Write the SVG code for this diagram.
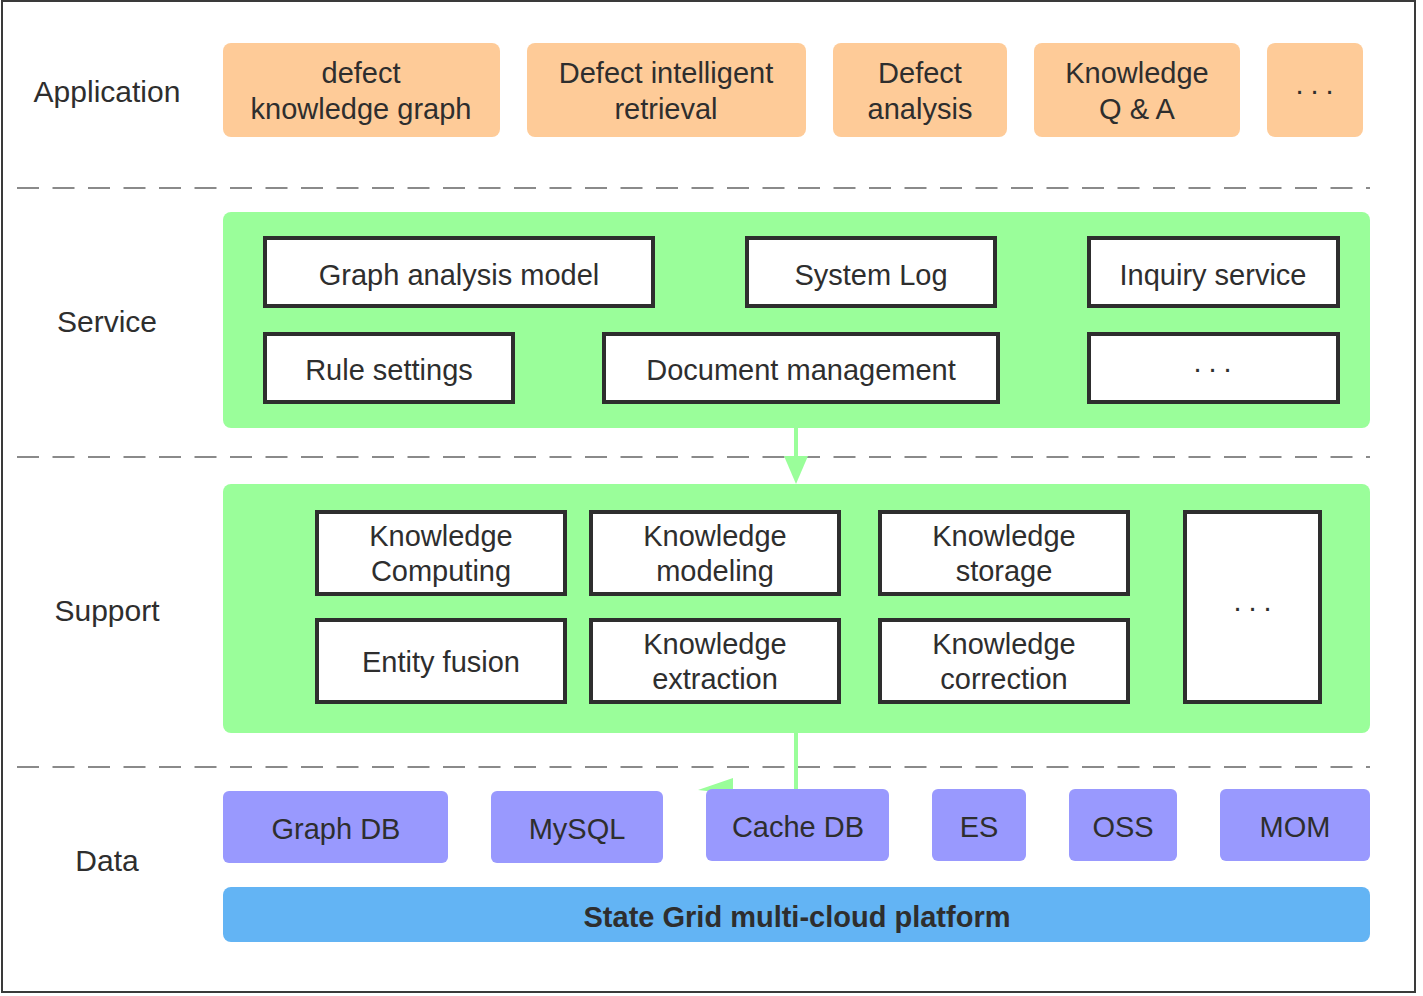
<svg xmlns="http://www.w3.org/2000/svg" width="1423" height="996" viewBox="0 0 1423 996">
<style>
text{font-family:"Liberation Sans","Noto Sans",Arial,sans-serif;font-size:29px;fill:#2e2e2e;text-anchor:middle}
.lbl{font-size:30px}
.app{fill:#FECB98}
.panel{fill:#9AFE9A}
.box{fill:#ffffff;stroke:#2e2e2e;stroke-width:4}
.db{fill:#9999FE}
.cloud{fill:#63B4F4}
.dash{stroke:#8a8a8a;stroke-width:2;stroke-dasharray:22 13.5;fill:none}
.conn{stroke:#9AFE9A;stroke-width:4;fill:none}
.head{fill:#9AFE9A}
.dots{letter-spacing:7px}
.bold{font-weight:bold}
</style>
<rect x="2" y="1" width="1413" height="991" fill="#ffffff" stroke="#3a3a3a" stroke-width="2"/>

<g id="separators">
<line class="dash" x1="17" y1="188" x2="1370" y2="188"/>
<line class="dash" x1="17" y1="457" x2="1370" y2="457"/>
<line class="dash" x1="17" y1="767" x2="1370" y2="767"/>
</g>

<g id="layer-labels">
<text class="lbl" x="107" y="102">Application</text>
<text class="lbl" x="107" y="332">Service</text>
<text class="lbl" x="107" y="621">Support</text>
<text class="lbl" x="107" y="871">Data</text>
</g>

<g id="service-panel"><rect class="panel" x="223" y="212" width="1147" height="216" rx="8"/></g>
<g id="support-panel"><rect class="panel" x="223" y="484" width="1147" height="249" rx="8"/></g>

<g id="connectors">
<line class="conn" x1="796" y1="428" x2="796" y2="458"/>
<polygon class="head" points="784,456 808,456 796,484"/>
<line class="conn" x1="796" y1="733" x2="796" y2="790"/>
<polygon class="head" points="733,778 698,790 733,794"/>
</g>

<g id="app-defect-kg"><rect class="app" x="223" y="43" width="277" height="94" rx="8"/><text x="361" y="83">defect</text><text x="361" y="119">knowledge graph</text></g>
<g id="app-retrieval"><rect class="app" x="527" y="43" width="279" height="94" rx="8"/><text x="666" y="83">Defect intelligent</text><text x="666" y="119">retrieval</text></g>
<g id="app-analysis"><rect class="app" x="833" y="43" width="174" height="94" rx="8"/><text x="920" y="83">Defect</text><text x="920" y="119">analysis</text></g>
<g id="app-qa"><rect class="app" x="1034" y="43" width="206" height="94" rx="8"/><text x="1137" y="83">Knowledge</text><text x="1137" y="119">Q &amp; A</text></g>
<g id="app-more"><rect class="app" x="1267" y="43" width="96" height="94" rx="8"/><text class="dots" x="1318" y="94">...</text></g>

<g id="svc-graph-analysis"><rect class="box" x="265" y="238" width="388" height="68"/><text x="459" y="285">Graph analysis model</text></g>
<g id="svc-system-log"><rect class="box" x="747" y="238" width="248" height="68"/><text x="871" y="285">System Log</text></g>
<g id="svc-inquiry"><rect class="box" x="1089" y="238" width="249" height="68"/><text x="1213" y="285">Inquiry service</text></g>
<g id="svc-rule"><rect class="box" x="265" y="334" width="248" height="68"/><text x="389" y="380">Rule settings</text></g>
<g id="svc-document"><rect class="box" x="604" y="334" width="394" height="68"/><text x="801" y="380">Document management</text></g>
<g id="svc-more"><rect class="box" x="1089" y="334" width="249" height="68"/><text class="dots" x="1216" y="372">...</text></g>

<g id="sup-computing"><rect class="box" x="317" y="512" width="248" height="82"/><text x="441" y="546">Knowledge</text><text x="441" y="581">Computing</text></g>
<g id="sup-modeling"><rect class="box" x="591" y="512" width="248" height="82"/><text x="715" y="546">Knowledge</text><text x="715" y="581">modeling</text></g>
<g id="sup-storage"><rect class="box" x="880" y="512" width="248" height="82"/><text x="1004" y="546">Knowledge</text><text x="1004" y="581">storage</text></g>
<g id="sup-entity"><rect class="box" x="317" y="620" width="248" height="82"/><text x="441" y="672">Entity fusion</text></g>
<g id="sup-extraction"><rect class="box" x="591" y="620" width="248" height="82"/><text x="715" y="654">Knowledge</text><text x="715" y="689">extraction</text></g>
<g id="sup-correction"><rect class="box" x="880" y="620" width="248" height="82"/><text x="1004" y="654">Knowledge</text><text x="1004" y="689">correction</text></g>
<g id="sup-more"><rect class="box" x="1185" y="512" width="135" height="190"/><text class="dots" x="1256" y="611">...</text></g>

<g id="db-graph"><rect class="db" x="223" y="791" width="225" height="72" rx="6"/><text x="336" y="839">Graph DB</text></g>
<g id="db-mysql"><rect class="db" x="491" y="791" width="172" height="72" rx="6"/><text x="577" y="839">MySQL</text></g>
<g id="db-cache"><rect class="db" x="706" y="789" width="183" height="72" rx="6"/><text x="798" y="837">Cache DB</text></g>
<g id="db-es"><rect class="db" x="932" y="789" width="94" height="72" rx="6"/><text x="979" y="837">ES</text></g>
<g id="db-oss"><rect class="db" x="1069" y="789" width="108" height="72" rx="6"/><text x="1123" y="837">OSS</text></g>
<g id="db-mom"><rect class="db" x="1220" y="789" width="150" height="72" rx="6"/><text x="1295" y="837">MOM</text></g>

<g id="cloud-platform"><rect class="cloud" x="223" y="887" width="1147" height="55" rx="8"/><text class="bold" x="797" y="927">State Grid multi-cloud platform</text></g>
</svg>
